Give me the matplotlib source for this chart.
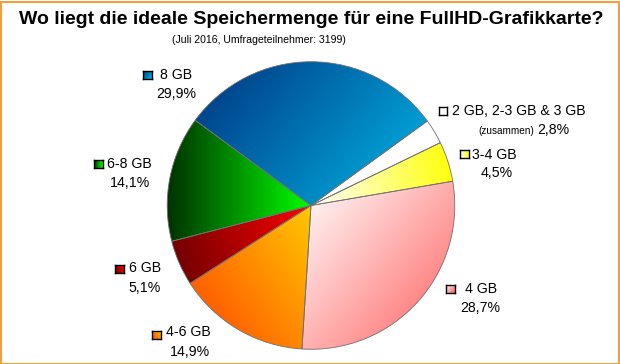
import numpy as np
import matplotlib
matplotlib.use("Agg")
import matplotlib.pyplot as plt
from matplotlib.patches import Rectangle
from matplotlib.colors import to_rgb

plt.rcParams['font.family'] = ['Liberation Sans', 'DejaVu Sans']

# Data (clockwise from start angle)
categories = ["2 GB, 2-3 GB & 3 GB", "3-4 GB", "4 GB", "4-6 GB", "6 GB", "6-8 GB", "8 GB"]
values = [2.8, 4.5, 28.7, 14.9, 5.1, 14.1, 29.9]
value_labels = ["2,8%", "4,5%", "28,7%", "14,9%", "5,1%", "14,1%", "29,9%"]
title = "Wo liegt die ideale Speichermenge für eine FullHD-Grafikkarte?"
subtitle = "(Juli 2016, Umfrageteilnehmer: 3199)"

# gradient: (start colour, end colour, direction angle in degrees from start to end)
grads = [
    ("#ffffff", "#ffffff", 0),
    ("#ffffff", "#ffff00", 10),
    ("#ffffff", "#ff5e5e", -40),
    ("#ff4400", "#ffc800", 35),
    ("#6a0000", "#ff0000", 15),
    ("#003000", "#00ff00", 0),
    ("#00337f", "#00b8e8", -40),
]

W, H = 620, 364
fig = plt.figure(figsize=(W / 100, H / 100), dpi=100)
fig.patch.set_facecolor("white")

cx, cy, r = 311, 205.5, 144.5
ax = fig.add_axes([(cx - r) / W, (H - cy - r) / H, 2 * r / W, 2 * r / H])
wedges, _ = ax.pie(values, startangle=36, counterclock=False, radius=1,
                   wedgeprops=dict(edgecolor="#707070", linewidth=0.6, facecolor="none"))
ax.set_aspect("equal")
ax.axis("off")


def grad_image(c0, c1, ang, xs=None, ys=None):
    c0 = np.array(to_rgb(c0)); c1 = np.array(to_rgb(c1))
    d = np.array([np.cos(np.radians(ang)), np.sin(np.radians(ang))])
    X, Y = np.meshgrid(xs, ys)
    P = X * d[0] + Y * d[1]
    t = (P - P.min()) / max(P.max() - P.min(), 1e-9)
    return c0 + t[..., None] * (c1 - c0)


for w, (c0, c1, ang) in zip(wedges, grads):
    v = w.get_path().vertices
    x0, x1 = v[:, 0].min(), v[:, 0].max()
    y0, y1 = v[:, 1].min(), v[:, 1].max()
    xs = np.linspace(x0, x1, 200)
    ys = np.linspace(y0, y1, 200)
    img = grad_image(c0, c1, ang, xs=xs, ys=ys)
    im = ax.imshow(img, extent=(x0, x1, y0, y1), origin="lower", zorder=0.5,
                   interpolation="bilinear")
    im.set_clip_path(w)
    w.set_zorder(2)

ax.set_xlim(-1.005, 1.005)
ax.set_ylim(-1.005, 1.005)

# Title
fig.text(311 / W, 1 - 19 / H, title, ha="center", va="center", fontsize=14.0,
         fontweight="bold")
fig.text(259 / W, 1 - 40 / H, subtitle, ha="center", va="center", fontsize=7.6)

# Legend-style labels: (square x, square y, text x, text y, pct x, pct y) in px
label_pos = [
    (439, 111, 452, 111, 553, 130),
    (460, 154, 472, 155, 497, 173),
    (446, 289, 465, 289, 480, 308),
    (152, 335, 166, 332, 190, 352),
    (115, 269, 129, 268, 145, 288),
    (94, 164, 107, 164, 130, 183),
    (143, 75, 160, 75, 176, 94),
]


def legend_square(x, y, c0, c1, ang):
    s = 8.5
    sax = fig.add_axes([x / W, (H - y - s / 2) / H, s / W, s / H])
    xs = np.linspace(-1, 1, 20); ys = np.linspace(-1, 1, 20)
    img = grad_image(c0, c1, ang, xs=xs, ys=ys)
    sax.imshow(img, extent=(-1, 1, -1, 1), origin="lower", interpolation="bilinear")
    sax.set_xticks([]); sax.set_yticks([])
    for sp in sax.spines.values():
        sp.set_linewidth(1.0)
        sp.set_color("black")


fs = 10.2
for i, (cat, pl, (sx, sy, tx, ty, px, py)) in enumerate(zip(categories, value_labels, label_pos)):
    c0, c1, ang = grads[i]
    legend_square(sx, sy, c0, c1, ang)
    fig.text(tx / W, 1 - ty / H, cat, ha="left", va="center", fontsize=fs)
    fig.text(px / W, 1 - py / H, pl, ha="center", va="center", fontsize=fs)
    if i == 0:
        fig.text(534 / W, 1 - (py + 0.5) / H, "(zusammen)", ha="right", va="center",
                 fontsize=7.2)

# Orange frame
fig.add_artist(Rectangle((0.5 / W, 0.5 / H), 1 - 2 / W, 1 - 2 / H, transform=fig.transFigure,
                         facecolor="none", edgecolor="#f0a040", linewidth=1.5))

fig.savefig("out.png", dpi=100)
